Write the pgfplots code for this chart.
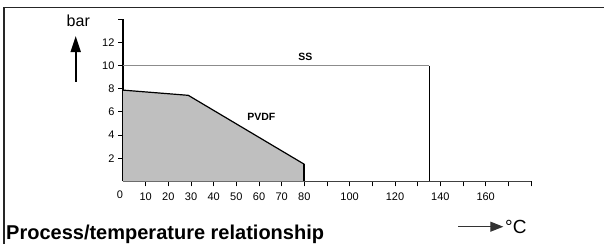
\documentclass[border=0pt]{standalone}
\usepackage{fontspec}
\setmainfont{Liberation Sans}
\usepackage{pgfplots}
\pgfplotsset{compat=1.18}
\usetikzlibrary{arrows.meta}
\begin{document}
\begin{tikzpicture}[x=1bp,y=1bp]
\useasboundingbox (0,0) rectangle (604,244);
\begin{axis}[
  at={(123bp,62.7bp)}, anchor=south west,
  scale only axis, width=408bp, height=162bp,
  xmin=0, xmax=180, ymin=0, ymax=14,
  axis x line*=bottom, axis y line*=left,
  x axis line style={line width=1.3bp, black!75},
  y axis line style={line width=1.8bp, black},
  xtick={10,20,...,180},
  xticklabels={10,20,30,40,50,60,70,80,,100,,120,,140,,160,,},
  extra x ticks={0}, extra x tick labels={0},
  extra x tick style={major tick length=0pt, xticklabel style={xshift=-3bp, yshift=-3bp}},
  xticklabel style={yshift=-3bp},
  ytick={2,4,...,14},
  yticklabels={2,4,6,8,10,12,},
  tick align=outside, major tick length=5bp,
  tick style={black, line width=0.8bp},
  ticklabel style={font=\fontsize{11bp}{13bp}\selectfont},
  /pgf/number format/assume math mode=true,
  clip=false,
]
\addplot[fill=black!25, draw=none] coordinates {(0,0) (0,7.88) (28.8,7.43) (80,1.47) (80,0)} \closedcycle;
\addplot[black, line width=1.2bp] coordinates {(0,7.88) (28.8,7.43) (80,1.47)};
\addplot[black, line width=2bp] coordinates {(80,1.47) (80,0)};
\addplot[black!45, line width=1.1bp] coordinates {(0,10) (135,10)};
\addplot[black, line width=0.9bp] coordinates {(135,10) (135,0)};
\node[font=\fontsize{10.5bp}{12bp}\selectfont\bfseries] at (axis cs:61,5.6) {PVDF};
\node[font=\fontsize{10.5bp}{12bp}\selectfont\bfseries] at (axis cs:80.5,10.75) {SS};
\end{axis}
\draw[line width=1.5bp, black!85] (4,0) -- (4,236.7) -- (604,236.7);
\node[anchor=base, inner sep=0pt, font=\fontsize{16bp}{18bp}\selectfont] at (78.3,218) {bar};
\draw[line width=1.8bp, -{Triangle[length=16bp,width=10bp]}] (75.7,162.3) -- (75.7,208);
\draw[line width=1bp, black!80, -{Triangle[length=13bp,width=10bp]}] (458.3,17.3) -- (503.3,17.3);
\node[anchor=base west, inner sep=0pt, font=\fontsize{19bp}{21bp}\selectfont] at (505,10.7) {°C};
\node[anchor=base west, inner sep=0pt, font=\fontsize{20bp}{23bp}\selectfont\bfseries] at (6,4.5) {Process/temperature relationship};
\end{tikzpicture}
\end{document}
